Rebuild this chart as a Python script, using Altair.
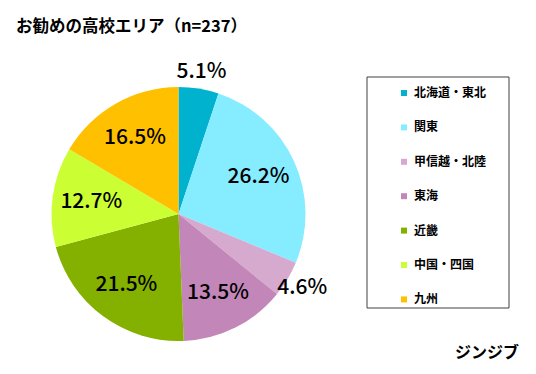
import altair as alt
import pandas as pd

title_text = "お勧めの高校エリア（n=237）"
brand_text = "ジンジブ"
regions = ["北海道・東北", "関東", "甲信越・北陸", "東海", "近畿", "中国・四国", "九州"]
shares = [5.1, 26.2, 4.6, 13.5, 21.5, 12.7, 16.5]
colors = ["#00B2CE", "#86ECFF", "#D6A9CF", "#C286B8", "#84B000", "#CCFF33", "#FFC000"]

FONT = "Noto Sans CJK JP"

df = pd.DataFrame({
    "region": regions,
    "share": shares,
    "idx": list(range(len(regions))),
    "label": [f"{s:.1f}%" for s in shares],
})

CX, CY, R = 170.5, 206, 127

arc = alt.Chart(df).mark_arc(outerRadius=R, x=CX, y=CY).encode(
    theta=alt.Theta("share:Q", stack=True),
    order=alt.Order("idx:Q"),
    color=alt.Color(
        "region:N",
        scale=alt.Scale(domain=regions, range=colors),
        sort=regions,
        legend=alt.Legend(
            title=None,
            orient="none",
            legendX=390,
            legendY=79,
            symbolType="square",
            symbolSize=36,
            symbolStrokeWidth=0,
            labelFont=FONT,
            labelFontSize=12,
            labelFontWeight="bold",
            labelColor="#000000",
            labelOffset=4,
            rowPadding=22.4,
            padding=0,
        ),
    ),
)

lab_base = alt.Chart(df).transform_joinaggregate(
    total="sum(share)"
).transform_window(
    cum="sum(share)", sort=[alt.SortField("idx")], frame=[None, 0]
).transform_calculate(
    mid="(datum.cum - datum.share / 2) / datum.total * 2 * PI"
)

inner = lab_base.transform_filter("datum.share >= 6").mark_text(
    x=CX, y=CY, radius=88, font=FONT, fontSize=21, fontWeight=500, color="#000000"
).encode(theta=alt.Theta("mid:Q", scale=None), text="label:N")

outer = lab_base.transform_filter("datum.share < 6").mark_text(
    x=CX, y=CY, radius=144, font=FONT, fontSize=21, fontWeight=500, color="#000000"
).encode(theta=alt.Theta("mid:Q", scale=None), text="label:N")

frame = alt.Chart(pd.DataFrame({"a": [0]})).mark_rect(
    fill=None, stroke="#404040", strokeWidth=1
).encode(
    x=alt.value(359), x2=alt.value(501), y=alt.value(69), y2=alt.value(300)
)

title = alt.Chart(pd.DataFrame({"t": [title_text]})).mark_text(
    font=FONT, fontSize=16.5, fontWeight="bold", align="left", baseline="middle", color="#000000"
).encode(text="t:N", x=alt.value(8), y=alt.value(18.5))

brand = alt.Chart(pd.DataFrame({"t": [brand_text]})).mark_text(
    font=FONT, fontSize=16, fontWeight="bold", align="right", baseline="middle", color="#000000"
).encode(text="t:N", x=alt.value(511), y=alt.value(345))

chart = alt.layer(arc, inner, outer, frame, title, brand).properties(
    width=520, height=358, padding=0
).configure_view(stroke=None)

chart.save("out.html", embed_options={"renderer": "svg", "actions": False})
